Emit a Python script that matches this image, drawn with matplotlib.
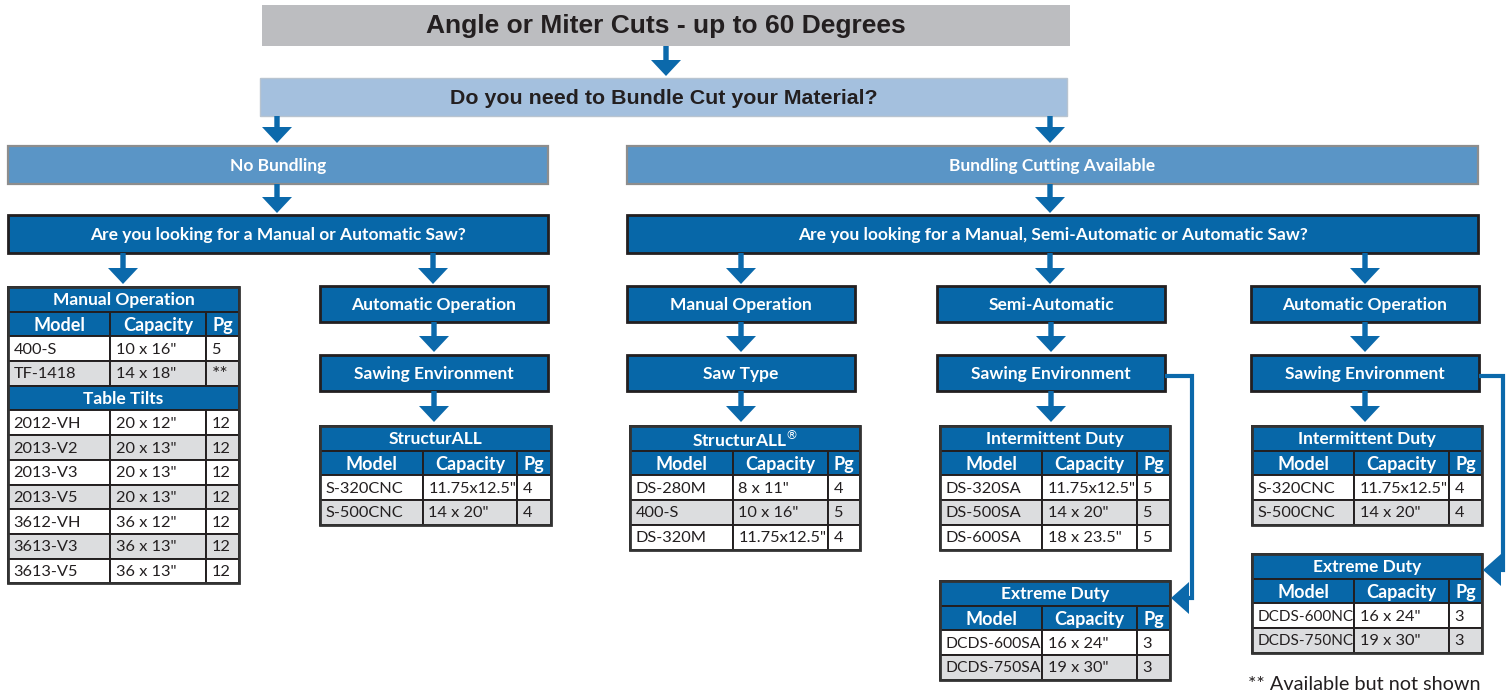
import matplotlib.pyplot as plt
from matplotlib.patches import Rectangle, Polygon

# ---- text / table data ----
title_text = 'Angle or Miter Cuts - up to 60 Degrees'
question_text = 'Do you need to Bundle Cut your Material?'
branch_labels = ['No Bundling', 'Bundling Cutting Available']
saw_questions = ['Are you looking for a Manual or Automatic Saw?',
                 'Are you looking for a Manual, Semi-Automatic or Automatic Saw?']
op_labels = ['Automatic Operation', 'Manual Operation', 'Semi-Automatic', 'Automatic Operation']
env_labels = ['Sawing Environment', 'Saw Type', 'Sawing Environment', 'Sawing Environment']
col_names = ['Model', 'Capacity', 'Pg']
footnote = '** Available but not shown'

manual_models = ['400-S', 'TF-1418']
manual_caps = ['10 x 16"', '14 x 18"']
manual_pg = ['5', '**']

tilt_models = ['2012-VH', '2013-V2', '2013-V3', '2013-V5', '3612-VH', '3613-V3', '3613-V5']
tilt_caps = ['20 x 12"', '20 x 13"', '20 x 13"', '20 x 13"', '36 x 12"', '36 x 13"', '36 x 13"']
tilt_pg = ['12', '12', '12', '12', '12', '12', '12']

auto_models = ['S-320CNC', 'S-500CNC']
auto_caps = ['11.75x12.5"', '14 x 20"']
auto_pg = ['4', '4']

bman_models = ['DS-280M', '400-S', 'DS-320M']
bman_caps = ['8 x 11"', '10 x 16"', '11.75x12.5"']
bman_pg = ['4', '5', '4']

semi_int_models = ['DS-320SA', 'DS-500SA', 'DS-600SA']
semi_int_caps = ['11.75x12.5"', '14 x 20"', '18 x 23.5"']
semi_int_pg = ['5', '5', '5']

semi_ext_models = ['DCDS-600SA', 'DCDS-750SA']
semi_ext_caps = ['16 x 24"', '19 x 30"']
semi_ext_pg = ['3', '3']

bauto_int_models = ['S-320CNC', 'S-500CNC']
bauto_int_caps = ['11.75x12.5"', '14 x 20"']
bauto_int_pg = ['4', '4']

bauto_ext_models = ['DCDS-600NC', 'DCDS-750NC']
bauto_ext_caps = ['16 x 24"', '19 x 30"']
bauto_ext_pg = ['3', '3']

# ---- styles ----
BLUE = '#0767a8'
ARROW = '#0b69ab'
MID = '#5a95c6'
LIGHT = '#a4c0de'
GREY = '#bcbdc0'
ROWGREY = '#dcdddf'
DARK = '#231f20'
SANS = ['Lato', 'DejaVu Sans']
NARROW = ['Liberation Sans Narrow', 'Liberation Sans', 'DejaVu Sans']

fig = plt.figure(figsize=(15.12, 6.96), dpi=100)
ax = fig.add_axes([0, 0, 1, 1])
ax.set_xlim(0, 1512)
ax.set_ylim(696, 0)
ax.axis('off')
renderer = fig.canvas.get_renderer()


def box(x0, x1, y0, y1, text, fc=BLUE, ec=DARK, lw=2.0, color='white', size=12.5,
        family=SANS):
    ax.add_patch(Rectangle((x0, y0), x1 - x0, y1 - y0, facecolor=fc, edgecolor=ec,
                           linewidth=lw))
    ax.text((x0 + x1) / 2, (y0 + y1) / 2 + 1, text, ha='center', va='center',
            color=color, fontsize=size, family=family, weight='bold')


def arrow_down(x, y0, y1):
    s, hw, hl = 2.7, 15, 16
    ax.add_patch(Polygon([(x - s, y0), (x + s, y0), (x + s, y1 - hl), (x + hw, y1 - hl),
                          (x, y1), (x - hw, y1 - hl), (x - s, y1 - hl)],
                         closed=True, facecolor=ARROW, edgecolor='none'))


def elbow(x_start, y_start, x_right, y_end, x_tip):
    ax.plot([x_start, x_right, x_right, x_tip + 16], [y_start, y_start, y_end, y_end],
            color=ARROW, lw=3, solid_joinstyle='miter', solid_capstyle='butt')
    ax.add_patch(Polygon([(x_tip, y_end), (x_tip + 18, y_end - 16), (x_tip + 18, y_end + 16)],
                         closed=True, facecolor=ARROW, edgecolor='none'))


def table(x0, y0, widths, parts, rh=24.7):
    xs = [x0]
    for w in widths:
        xs.append(xs[-1] + w)
    y = y0
    for part in parts:
        if isinstance(part, str):
            ax.add_patch(Rectangle((xs[0], y), xs[-1] - xs[0], rh, facecolor=BLUE,
                                   edgecolor=DARK, linewidth=1.4))
            ax.text((xs[0] + xs[-1]) / 2, y + rh / 2 + 1, part, ha='center', va='center',
                    color='white', fontsize=12.5, family=SANS, weight='bold')
            y += rh
        elif part is None:
            for j, name in enumerate(col_names):
                ax.add_patch(Rectangle((xs[j], y), xs[j + 1] - xs[j], rh, facecolor=BLUE,
                                       edgecolor=DARK, linewidth=1.4))
                ax.text((xs[j] + xs[j + 1]) / 2, y + rh / 2 + 1, name, ha='center',
                        va='center', color='white', fontsize=13, family=SANS,
                        weight='bold')
            y += rh
        else:
            for i, row in enumerate(zip(*part)):
                fc = 'white' if i % 2 == 0 else ROWGREY
                for j, val in enumerate(row):
                    ax.add_patch(Rectangle((xs[j], y), xs[j + 1] - xs[j], rh, facecolor=fc,
                                           edgecolor=DARK, linewidth=1.4))
                    size = 14 if val == '**' else 11.8
                    t = ax.text(xs[j] + 5.5, y + rh / 2 + 1, val, ha='left', va='center',
                                color=DARK, fontsize=size, family=SANS)
                    # squeeze long model names into their cell
                    room = xs[j + 1] - xs[j] - 7
                    w = t.get_window_extent(renderer).width
                    if w > room:
                        t.set_fontsize(size * room / w)
                y += rh
    ax.add_patch(Rectangle((xs[0], y0), xs[-1] - xs[0], y - y0, facecolor='none',
                           edgecolor='#333333', linewidth=2))


# ---- top of the chart ----
box(262, 1070, 5, 46, title_text, fc=GREY, ec='none', lw=0, color=DARK, size=19,
    family=NARROW)
arrow_down(666, 46, 76)
box(260, 1067, 78, 116, question_text, fc=LIGHT, ec='#b8c4d0', lw=1, color=DARK,
    size=15.4, family=NARROW)
arrow_down(277, 116, 143)
arrow_down(1050, 116, 143)
box(8, 548, 146, 184, branch_labels[0], fc=MID, ec='#8d8d8d', lw=1.6)
box(627, 1478, 146, 184, branch_labels[1], fc=MID, ec='#8d8d8d', lw=1.6)
arrow_down(277, 184, 213)
arrow_down(1050, 184, 213)
box(8, 548, 215, 253, saw_questions[0])
box(627, 1478, 215, 253, saw_questions[1])

# ---- no bundling branch ----
arrow_down(123, 253, 284)
arrow_down(433, 253, 284)
table(8, 287, [102, 96, 33],
      ['Manual Operation', None, (manual_models, manual_caps, manual_pg),
       'Table Tilts', (tilt_models, tilt_caps, tilt_pg)])

op_x = [(320, 548), (627, 855), (937, 1165), (1251, 1479)]
for (x0, x1), lab, env in zip(op_x, op_labels, env_labels):
    xc = (x0 + x1) / 2
    box(x0, x1, 286, 322, lab)
    arrow_down(xc, 322, 352)
    box(x0, x1, 355, 391, env)
    arrow_down(xc, 391, 422)
for xc in (741, 1050, 1365):
    arrow_down(xc, 253, 284)

table(320, 426, [103, 94, 34],
      ['StructurALL', None, (auto_models, auto_caps, auto_pg)])

# ---- bundling branch ----
table(630, 426, [103, 95, 32],
      [r'StructurALL$^{\circledR}$', None, (bman_models, bman_caps, bman_pg)])
table(940, 426, [102, 95, 33],
      ['Intermittent Duty', None, (semi_int_models, semi_int_caps, semi_int_pg)])
table(940, 581, [102, 95, 33],
      ['Extreme Duty', None, (semi_ext_models, semi_ext_caps, semi_ext_pg)])
table(1252, 426, [102, 95, 33],
      ['Intermittent Duty', None, (bauto_int_models, bauto_int_caps, bauto_int_pg)])
table(1252, 554, [102, 95, 33],
      ['Extreme Duty', None, (bauto_ext_models, bauto_ext_caps, bauto_ext_pg)])

elbow(1165, 376, 1192, 598, 1171)
elbow(1479, 376, 1503, 570, 1483)

ax.text(1248, 684, footnote, ha='left', va='center', color=DARK, fontsize=14.3,
        family=SANS)

fig.savefig('out.png', dpi=100)
